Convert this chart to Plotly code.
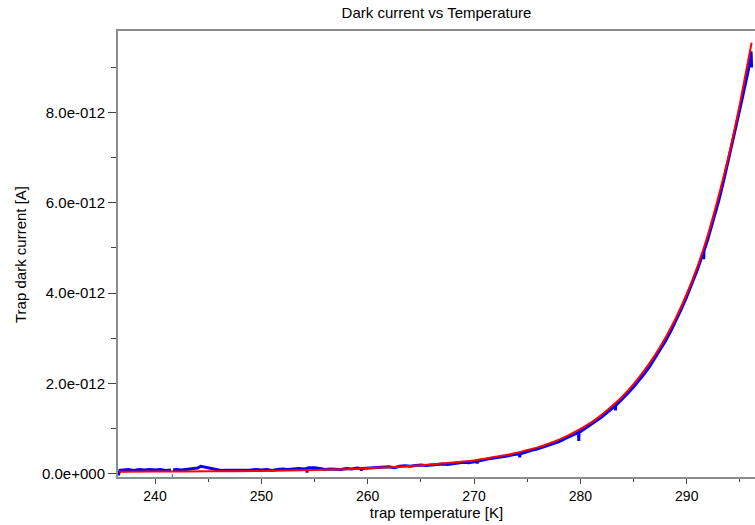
import plotly.graph_objects as go

# ---- data (currents in units of 1e-12 A) ----
fit_temp = [236.6, 240, 245, 250, 255, 258, 260, 262, 264, 266, 268, 270, 271, 272, 273, 274,
            275, 276, 277, 278, 279, 280, 281, 282, 283, 284, 285, 286, 287, 288, 289, 290,
            291, 292, 293, 294, 295, 296.1]
fit_current = [0.040, 0.043, 0.048, 0.058, 0.078, 0.097, 0.115, 0.138, 0.166, 0.20, 0.245, 0.29,
               0.33, 0.37, 0.41, 0.46, 0.52, 0.58, 0.66, 0.75, 0.86, 0.99, 1.13, 1.30, 1.50, 1.72,
               1.98, 2.28, 2.62, 3.01, 3.46, 3.98, 4.58, 5.30, 6.15, 7.10, 8.20, 9.55]

meas_temp = [236.55, 236.7, 237.0, 237.5, 238.0, 238.5, 239.0, 239.5, 240.0, 240.5, 241.0, 241.5,
             None, 241.58, 241.66, None,
             241.7, 242.0, 242.5, 243.0, 243.5, 244.0, 244.3, 244.7, 245.0, 245.5, 246.0, 246.5,
             247.0, 247.5, 248.0, 248.5, 249.0, 249.5, 250.0, 250.5, 251.0, 251.5, 252.0, 252.5,
             253.0, 253.5, 254.0, 254.28, 254.3, 254.32, 254.5, 255.0, 255.5, 256.0, 256.5, 257.0,
             257.5, 258.0, 258.5, 259.0, 259.38, 259.4, 259.42, 259.5, 260.0, 260.5, 261.0, 261.5,
             262.0, 262.5, 263.0, 263.5, 264.0, 264.5, 265.0, 265.5, 266.0, 266.5, 267.0, 267.5,
             268.0, 268.5, 269.0, 269.5, 270.0, 270.28, 270.3, 270.32, 270.5, 271.0, 271.5, 272.0,
             272.5, 273.0, 273.5, 274.0, 274.28, 274.3, 274.32, 274.5, 275.0, 275.5, 276.0, 276.5,
             277.0, 277.5, 278.0, 278.5, 279.0, 279.5, 279.83, 279.85, 279.87, 280.0, 280.5, 281.0,
             281.5, 282.0, 282.5, 283.0, 283.28, 283.3, 283.32, 283.5, 284.0, 284.5, 285.0, 285.5,
             286.0, 286.5, 287.0, 287.5, 288.0, 288.5, 289.0, 289.5, 290.0, 290.5, 291.0, 291.5,
             291.58, 291.6, 291.62, 292.0, 292.5, 293.0, 293.5, 294.0, 294.5, 295.0, 295.5, 295.8,
             295.9, 296.0, 296.05, 296.1]
meas_current = [-0.04, 0.07, 0.08, 0.09, 0.07, 0.09, 0.08, 0.09, 0.08, 0.09, 0.07, 0.08,
                None, -0.05, -0.05, None,
                0.08, 0.09, 0.08, 0.09, 0.10, 0.12, 0.16, 0.14, 0.12, 0.10, 0.08, 0.07,
                0.07, 0.07, 0.07, 0.07, 0.08, 0.09, 0.08, 0.09, 0.07, 0.09, 0.10, 0.09,
                0.10, 0.11, 0.10, 0.11, 0.02, 0.12, 0.13, 0.13, 0.11, 0.09, 0.10, 0.10,
                0.09, 0.11, 0.10, 0.12, 0.11, 0.06, 0.11, 0.11, 0.12, 0.13, 0.13, 0.14,
                0.15, 0.13, 0.16, 0.17, 0.16, 0.18, 0.19, 0.18, 0.19, 0.19, 0.21, 0.20,
                0.22, 0.24, 0.25, 0.24, 0.27, 0.27, 0.22, 0.27, 0.28, 0.31, 0.33, 0.35,
                0.36, 0.38, 0.41, 0.43, 0.44, 0.36, 0.44, 0.45, 0.49, 0.52, 0.55, 0.59,
                0.62, 0.67, 0.71, 0.77, 0.82, 0.88, 0.91, 0.72, 0.92, 0.93, 1.01, 1.08,
                1.17, 1.25, 1.35, 1.45, 1.50, 1.40, 1.51, 1.55, 1.66, 1.79, 1.92, 2.06,
                2.21, 2.37, 2.55, 2.74, 2.94, 3.16, 3.40, 3.65, 3.92, 4.21, 4.52, 4.86,
                4.91, 4.75, 4.93, 5.21, 5.62, 6.04, 6.52, 7.02, 7.55, 8.08, 8.62, 8.95,
                9.20, 9.05, 9.36, 9.00]

y_tick_vals = [0, 2, 4, 6, 8]
y_tick_text = ["0.0e+000", "2.0e-012", "4.0e-012", "6.0e-012", "8.0e-012"]
y_minor_vals = [1, 3, 5, 7, 9]

SCALE = 1e-12
def to_amp(vals):
    return [None if v is None else v * SCALE for v in vals]

fig = go.Figure()
fig.add_trace(go.Scatter(x=meas_temp, y=to_amp(meas_current), mode="lines",
                         line=dict(color="#0000ff", width=3), connectgaps=False,
                         showlegend=False, hoverinfo="skip"))
fig.add_trace(go.Scatter(x=fit_temp, y=to_amp(fit_current), mode="lines",
                         line=dict(color="#ff0000", width=2, shape="spline", smoothing=0.6),
                         showlegend=False, hoverinfo="skip"))

font = "Liberation Sans, Arial, sans-serif"
L, T, B, W, H = 118, 31, 48, 755, 525
fig.update_layout(
    width=W, height=H,
    margin=dict(l=L, r=0, t=T, b=B, pad=0),
    paper_bgcolor="white", plot_bgcolor="white",
    font=dict(family=font, size=14, color="black"),
    title=dict(text="Dark current vs Temperature", x=0.5, xref="paper",
               y=1 - 13 / H, yref="container", yanchor="middle",
               font=dict(size=15, color="black")),
    showlegend=False,
    annotations=[dict(text="Trap dark current [A]", textangle=-90,
                      xref="paper", yref="paper",
                      x=(20 - L) / (W - L), y=(H - B - 255) / (H - T - B),
                      xanchor="center", yanchor="middle", showarrow=False,
                      font=dict(size=15, color="black"))],
)
fig.update_xaxes(
    range=[236.52, 296.42], automargin=False,
    tickmode="linear", tick0=240, dtick=10,
    ticks="outside", ticklen=5, tickwidth=1, tickcolor="#444",
    minor=dict(ticks="outside", ticklen=3, tickwidth=1, tickcolor="#444", tick0=235, dtick=5),
    showline=True, linecolor="#8c8c8c", linewidth=2, mirror=True,
    showgrid=False, zeroline=False,
    tickfont=dict(size=14, color="black"),
    title=dict(text="trap temperature [K]", font=dict(size=15, color="black"), standoff=5),
)
fig.update_yaxes(
    range=[-0.077e-12, 9.81e-12], automargin=False,
    tickmode="array", tickvals=[v * SCALE for v in y_tick_vals], ticktext=y_tick_text,
    ticks="outside", ticklen=8, tickwidth=1, tickcolor="#444",
    minor=dict(ticks="outside", ticklen=5, tickwidth=1, tickcolor="#444",
               tickvals=[v * SCALE for v in y_minor_vals]),
    showline=True, linecolor="#8c8c8c", linewidth=2, mirror=False,
    showgrid=False, zeroline=False,
    tickfont=dict(size=15, color="black"),
)

fig.write_html("out.html", config={"displayModeBar": False},
               post_script="document.body.style.margin='0';")
